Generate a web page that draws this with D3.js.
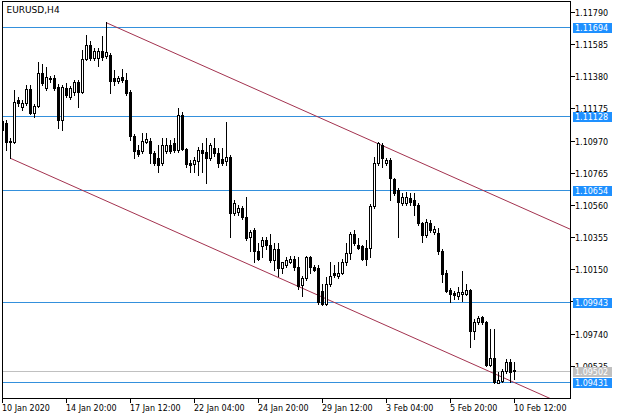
<!DOCTYPE html>
<html><head><meta charset="utf-8">
<script src="https://cdn.jsdelivr.net/npm/d3@7"></script>
<style>html,body{margin:0;padding:0;background:#fff;} svg{display:block;} text{font-family:"DejaVu Sans",sans-serif;}</style>
</head><body><svg id="c" width="623" height="419"></svg>
<script>
const symbolTitle = "EURUSD,H4";
const open = [
1.11095,1.11082,1.10962,1.10962,1.11229,1.11184,1.11210,1.11298,1.11146,1.11190,
1.11400,1.11305,1.11368,1.11368,1.11311,1.11101,1.11305,1.11248,1.11279,1.11343,
1.11279,1.11489,1.11578,1.11495,1.11495,1.11540,1.11508,1.11515,1.11368,1.11349,
1.11375,1.11356,1.11279,1.11000,1.10911,1.10905,1.10962,1.10968,1.10892,1.10860,
1.10828,1.10905,1.10943,1.10955,1.10911,1.11133,1.10917,1.10828,1.10822,1.10841,
1.10911,1.10898,1.10860,1.10924,1.10892,1.10854,1.10841,1.10866,1.10511,1.10517,
1.10542,1.10485,1.10358,1.10403,1.10269,1.10301,1.10339,1.10307,1.10206,1.10276,
1.10155,1.10180,1.10199,1.10218,1.10167,1.10047,1.10091,1.10225,1.10167,1.10155,
1.10009,1.09926,1.10053,1.10129,1.10104,1.10129,1.10193,1.10256,1.10377,1.10307,
1.10295,1.10288,1.10288,1.10555,1.10828,1.10943,1.10828,1.10847,1.10727,1.10657,
1.10574,1.10574,1.10606,1.10593,1.10561,1.10447,1.10371,1.10447,1.10390,1.10384,
1.10263,1.10129,1.10015,1.09996,1.09977,1.09990,1.09990,1.10015,1.09754,1.09812,
1.09843,1.09812,1.09538,1.09583,1.09424,1.09437,1.09500,1.09557,1.09510];
const high = [
1.11108,1.11101,1.10987,1.11292,1.11248,1.11229,1.11324,1.11324,1.11203,1.11470,
1.11457,1.11438,1.11381,1.11387,1.11330,1.11324,1.11337,1.11318,1.11356,1.11356,
1.11546,1.11642,1.11604,1.11559,1.11559,1.11635,1.11724,1.11527,1.11419,1.11381,
1.11426,1.11400,1.11292,1.11013,1.10943,1.11019,1.11019,1.10987,1.10905,1.10943,
1.10987,1.10987,1.10974,1.10987,1.11178,1.11152,1.10924,1.10847,1.10866,1.10930,
1.10955,1.10987,1.10955,1.10987,1.10924,1.10924,1.11089,1.10879,1.10593,1.10561,
1.10555,1.10612,1.10403,1.10415,1.10320,1.10358,1.10358,1.10377,1.10320,1.10320,
1.10199,1.10231,1.10237,1.10237,1.10231,1.10104,1.10237,1.10237,1.10180,1.10174,
1.10053,1.10098,1.10193,1.10180,1.10193,1.10212,1.10320,1.10390,1.10403,1.10352,
1.10307,1.10339,1.10568,1.10866,1.10962,1.10955,1.10860,1.10860,1.10733,1.10669,
1.10638,1.10644,1.10638,1.10638,1.10574,1.10453,1.10472,1.10466,1.10428,1.10415,
1.10276,1.10148,1.10028,1.10009,1.10034,1.10136,1.10053,1.10021,1.09831,1.09850,
1.09850,1.09818,1.09767,1.09767,1.09494,1.09513,1.09577,1.09577,1.09557];
const low = [
1.11025,1.10911,1.10860,1.10955,1.11190,1.11165,1.11197,1.11140,1.11121,1.11184,
1.11324,1.11292,1.11343,1.11292,1.11051,1.11038,1.11248,1.11235,1.11260,1.11184,
1.11273,1.11483,1.11483,1.11483,1.11445,1.11483,1.11495,1.11273,1.11324,1.11337,
1.11343,1.11260,1.10974,1.10860,1.10873,1.10892,1.10955,1.10828,1.10816,1.10771,
1.10816,1.10892,1.10892,1.10898,1.10898,1.10911,1.10803,1.10771,1.10771,1.10752,
1.10771,1.10701,1.10847,1.10873,1.10803,1.10816,1.10816,1.10358,1.10498,1.10498,
1.10472,1.10339,1.10263,1.10199,1.10206,1.10231,1.10276,1.10193,1.10148,1.10104,
1.10129,1.10167,1.10187,1.10148,1.10021,1.09977,1.10079,1.10129,1.10136,1.09926,
1.09920,1.09920,1.10040,1.10098,1.10091,1.10117,1.10180,1.10212,1.10307,1.10276,
1.10206,1.10174,1.10225,1.10542,1.10816,1.10803,1.10816,1.10593,1.10625,1.10358,
1.10561,1.10561,1.10561,1.10498,1.10434,1.10326,1.10358,1.10390,1.10377,1.10250,
1.10066,1.10002,1.09939,1.09958,1.09958,1.09945,1.09983,1.09653,1.09704,1.09799,
1.09799,1.09532,1.09532,1.09424,1.09424,1.09430,1.09488,1.09430,1.09449];
const close = [
1.11038,1.10962,1.10968,1.11216,1.11210,1.11210,1.11298,1.11146,1.11190,1.11400,
1.11337,1.11375,1.11362,1.11305,1.11101,1.11311,1.11260,1.11305,1.11343,1.11279,
1.11489,1.11578,1.11495,1.11540,1.11540,1.11502,1.11534,1.11349,1.11349,1.11368,
1.11356,1.11273,1.11000,1.10905,1.10885,1.10968,1.10981,1.10892,1.10828,1.10816,
1.10943,1.10943,1.10905,1.10911,1.11133,1.10917,1.10822,1.10816,1.10847,1.10911,
1.10892,1.10860,1.10943,1.10892,1.10828,1.10828,1.10866,1.10511,1.10574,1.10542,
1.10485,1.10352,1.10390,1.10263,1.10218,1.10339,1.10307,1.10206,1.10276,1.10155,
1.10193,1.10206,1.10218,1.10167,1.10040,1.10091,1.10225,1.10167,1.10148,1.09939,
1.09926,1.10053,1.10104,1.10110,1.10129,1.10193,1.10256,1.10377,1.10320,1.10288,
1.10218,1.10212,1.10555,1.10828,1.10955,1.10860,1.10847,1.10733,1.10638,1.10581,
1.10612,1.10612,1.10581,1.10561,1.10447,1.10371,1.10453,1.10403,1.10409,1.10263,
1.10117,1.10009,1.09990,1.09983,1.10002,1.10002,1.10015,1.09754,1.09812,1.09837,
1.09812,1.09538,1.09583,1.09430,1.09443,1.09500,1.09557,1.09494,1.09502];
const timeTickIndex = [0,16,32,48,64,80,96,112,128];
const timeTickLabels = ["10 Jan 2020","14 Jan 20:00","17 Jan 12:00","22 Jan 04:00","24 Jan 20:00","29 Jan 12:00","3 Feb 04:00","5 Feb 20:00","10 Feb 12:00"];
const priceTicks = [1.11790,1.11585,1.11380,1.11175,1.10970,1.10765,1.10560,1.10355,1.10150,1.09945,1.09740,1.09535];
const levelPrices = [1.11694,1.11128,1.10654,1.09943,1.09431];
const bidPrice = 1.09502;
const channelUpper = [[26,1.11724],[140,1.10430]];
const channelLower = [[2,1.10860],[140,1.09294]];

const L=2.5,T=1.5,R=570.5,B=398.5;
const x = d3.scaleLinear().domain([0,142]).range([2.5,570.5]);
const y = d3.scaleLinear().domain([1.11694,1.09431]).range([27.5,382.5]);
const row = p => Math.round(y(p)-0.5);
const svg = d3.select("#c");
svg.append("rect").attr("width",623).attr("height",419).attr("fill","#fff");
svg.append("defs").append("clipPath").attr("id","clip").append("rect")
  .attr("x",L+0.5).attr("y",T+0.5).attr("width",R-L-1).attr("height",B-T-1);
const plot = svg.append("g").attr("clip-path","url(#clip)");

// horizontal levels
plot.selectAll("line.lvl").data(levelPrices).join("line").attr("class","lvl")
  .attr("x1",L).attr("x2",R).attr("y1",d=>row(d)+0.5).attr("y2",d=>row(d)+0.5)
  .attr("stroke","#3490dc").attr("stroke-width",1).attr("shape-rendering","crispEdges");
plot.append("line").attr("x1",L).attr("x2",R).attr("y1",row(bidPrice)+0.5).attr("y2",row(bidPrice)+0.5)
  .attr("stroke","#c0c0c0").attr("shape-rendering","crispEdges");

// channel
function ray(pts){
  const [a,b]=pts; const s=(b[1]-a[1])/(b[0]-a[0]);
  const xe = x.invert(R+2);
  return [[x(a[0]),y(a[1])],[x(xe),y(a[1]+s*(xe-a[0]))]];
}
[channelUpper,channelLower].forEach(c=>{
  const r=ray(c);
  plot.append("line").attr("x1",r[0][0]).attr("y1",r[0][1]).attr("x2",r[1][0]).attr("y2",r[1][1])
    .attr("stroke","#a3324f").attr("stroke-width",1);
});

// candles
const bars = d3.range(open.length).map(i=>({i,o:open[i],h:high[i],l:low[i],c:close[i]}));
const cg = plot.append("g").attr("shape-rendering","crispEdges");
bars.forEach(d=>{
  const cx = x(d.i);
  const hi=row(d.h), lo=row(d.l);
  cg.append("rect").attr("x",cx-0.5).attr("y",hi).attr("width",1).attr("height",lo-hi+1).attr("fill","#000");
  const top=row(Math.max(d.o,d.c)), bot=row(Math.min(d.o,d.c));
  if (bot-top<1){
    cg.append("rect").attr("x",cx-1.5).attr("y",top).attr("width",3).attr("height",1).attr("fill","#000");
  } else if (d.c<d.o){
    cg.append("rect").attr("x",cx-1.5).attr("y",top).attr("width",3).attr("height",bot-top+1).attr("fill","#000");
  } else {
    cg.append("rect").attr("x",cx-1).attr("y",top+0.5).attr("width",2).attr("height",bot-top)
      .attr("fill","#fff").attr("stroke","#000").attr("stroke-width",1);
  }
});

// frame
svg.append("rect").attr("x",L).attr("y",T).attr("width",R-L).attr("height",B-T)
  .attr("fill","none").attr("stroke","#000").attr("shape-rendering","crispEdges");

// title
svg.append("text").attr("x",6.5).attr("y",13).attr("font-size","9px").attr("fill","#000").text(symbolTitle);

// price axis
const pa = svg.append("g");
pa.selectAll("line").data(priceTicks).join("line")
  .attr("x1",R).attr("x2",R+4).attr("y1",d=>row(d)+0.5).attr("y2",d=>row(d)+0.5)
  .attr("stroke","#000").attr("shape-rendering","crispEdges");
pa.selectAll("text").data(priceTicks).join("text")
  .attr("x",575).attr("y",d=>row(d)+3.5).attr("font-size","8px").attr("fill","#000")
  .text(d=>d.toFixed(5));

// level labels
const labels = levelPrices.map(p=>({p,bg:"#1e90ff"})).concat([{p:bidPrice,bg:"#c0c0c0"}]);
const lg = svg.append("g");
labels.forEach(d=>{
  const r=row(d.p);
  lg.append("rect").attr("x",573).attr("y",r-4).attr("width",39).attr("height",10).attr("fill",d.bg);
  lg.append("text").attr("x",575).attr("y",r+4).attr("font-size","8px").attr("fill","#fff").text(d.p.toFixed(5));
});

// time axis
const ta = svg.append("g");
ta.selectAll("line").data(timeTickIndex).join("line")
  .attr("x1",d=>x(d)).attr("x2",d=>x(d)).attr("y1",B).attr("y2",B+4)
  .attr("stroke","#000").attr("shape-rendering","crispEdges");
ta.selectAll("text").data(timeTickIndex).join("text")
  .attr("x",d=>x(d)-0.5).attr("y",411).attr("font-size","8px").attr("fill","#000")
  .text((d,i)=>timeTickLabels[i]);
</script></body></html>
